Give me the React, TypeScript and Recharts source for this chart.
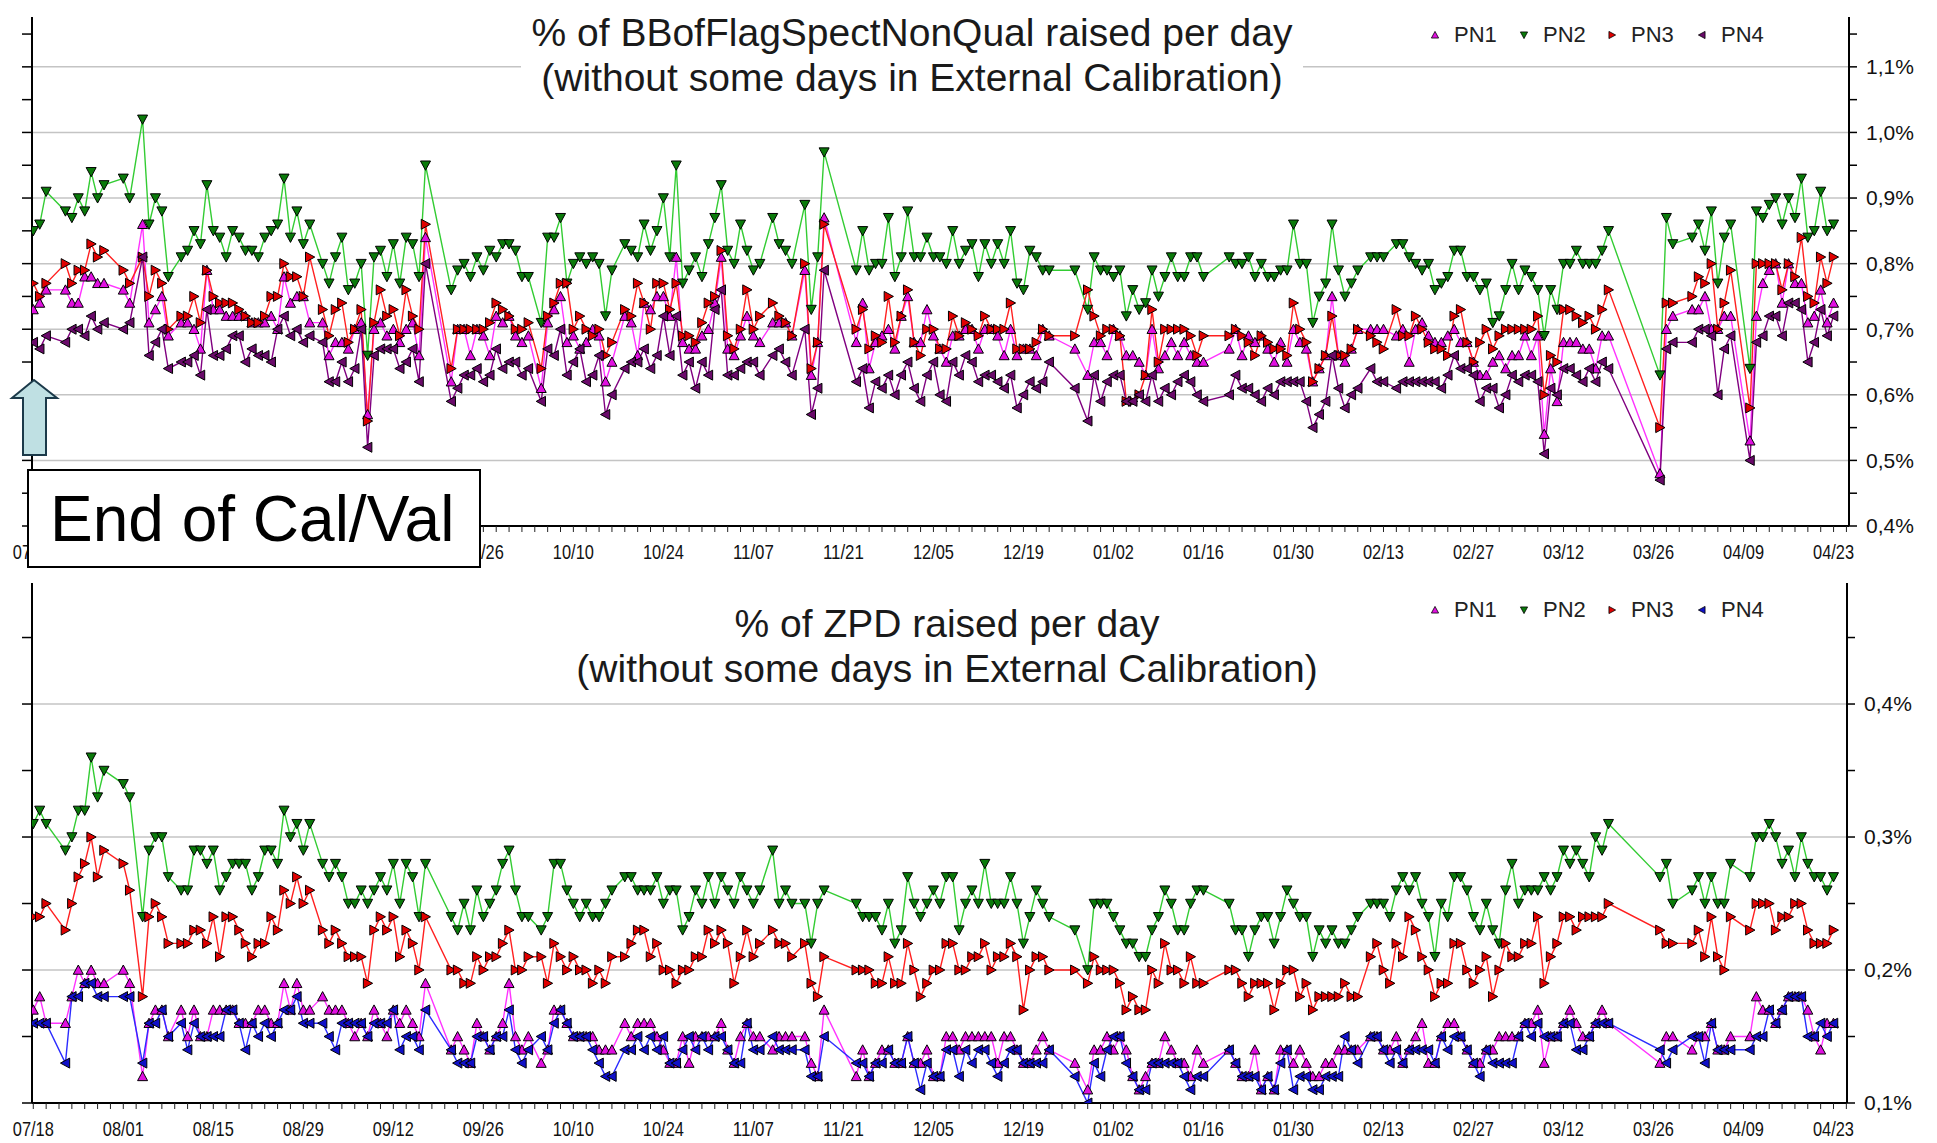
import { CartesianGrid, Line, LineChart, XAxis, YAxis } from 'recharts'

const N = null

// day 0 = 07/18, one value per day, in hundredths of a percent (null = no data that day)
const TOP_PN1 = [
  73, 74, 76, N, N, 76, 74, 74, 78, 78,
  77, 77, N, N, 76, 74, N, 86, 71, 73,
  75, 69, N, 71, 71, 70, 67, 79, 73, 73,
  72, 72, 72, 72, 71, 71, 71, 72, 70, 78,
  74, 75, 75, 71, N, 71, 66, 68, 68, 67,
  70, 71, 57, 70, 71, 69, 70, 68, 70, 71,
  66, 84, N, N, N, 62, 70, 70, 66, 70,
  69, 66, 72, 71, 72, 69, 68, 69, N, 61,
  71, 73, 75, 68, 69, 67, 68, 70, 69, 62,
  65, N, 72, 71, 66, 74, 73, 75, 75, 72,
  81, 68, 67, 67, 69, 70, 74, 81, 67, 66,
  69, 72, 69, 68, N, 71, 71, 71, 69, N,
  79, 63, 68, 87, N, N, N, N, 68, 74,
  64, 68, 69, 70, 67, 72, 75, 68, 68, 73,
  69, 67, 65, 69, 69, 70, 70, 67, 70, 70,
  69, 66, 70, 66, 67, 67, 66, 70, 69, N,
  N, N, 67, N, 63, 68, 68, 66, 70, 69,
  66, 66, 65, 63, 70, 64, 66, 68, 66, 68,
  66, 65, 65, N, N, N, 67, 70, 66, 69,
  68, 69, 67, 65, 68, 65, 70, 68, 67, 62,
  64, 66, 75, 66, 65, 67, 70, N, 70, 70,
  70, N, 69, 70, 65, 70, 71, 69, 68, 68,
  69, 70, 68, 68, 65, 63, 63, 65, 66, 64,
  66, 66, 69, 66, 69, 54, 64, 59, 68, 68,
  68, 67, 67, 64, 69, 69, N, N, N, N,
  N, N, N, 48, 70, 72, N, N, 73, 73,
  75, 70, 70, 72, 72, N, N, 53, 72, 77,
  79, 80, 74, 80, 77, 77, 71, 72, 76, 71, 74,
]

const TOP_PN2 = [
  85, 86, 91, N, N, 88, 87, 90, 88, 94,
  90, 92, N, N, 93, 90, N, 102, 86, 90,
  88, 78, N, 81, 82, 85, 83, 92, 85, 84,
  81, 85, 84, 82, 82, 81, 84, 85, 86, 93,
  84, 88, 83, 86, N, 80, 77, 81, 84, 76,
  77, 80, 66, 81, 82, 78, 83, 77, 84, 83,
  78, 95, N, N, N, 76, 79, 80, 78, 81,
  79, 82, 81, 83, 83, 82, 78, 78, N, 71,
  84, 84, 87, 77, 80, 81, 80, 81, 80, 72,
  79, N, 83, 82, 81, 86, 82, 85, 90, 81,
  95, 77, 79, 81, 78, 83, 87, 92, 82, 80,
  86, 82, 79, 80, N, 87, 83, 82, 80, N,
  89, 73, 81, 97, N, N, N, N, 79, 85,
  79, 80, 80, 87, 78, 81, 88, 81, 81, 84,
  81, 81, 80, 85, 80, 82, 83, 78, 83, 80,
  83, 80, 85, 77, 76, 82, 81, 79, 79, N,
  N, N, 79, N, 73, 81, 79, 79, 78, 79,
  72, 76, 73, 74, 79, 75, 78, 81, 78, 78,
  81, 81, 78, N, N, N, 81, 80, 80, 81,
  78, 80, 78, 78, 79, 79, 86, 80, 80, 71,
  75, 77, 86, 79, 75, 77, 79, N, 81, 81,
  81, N, 83, 83, 81, 80, 79, 80, 76, 77,
  78, 82, 82, 78, 78, 76, 77, 71, 72, 76,
  80, 76, 79, 78, 76, 69, 76, 73, 80, 80,
  82, 80, 80, 80, 82, 85, N, N, N, N,
  N, N, N, 63, 87, 83, N, N, 84, 86,
  82, 88, 77, 84, 86, N, N, 64, 88, 87,
  89, 90, 86, 90, 87, 93, 84, 85, 91, 85, 86,
]

const TOP_PN3 = [
  77, 75, 77, N, N, 80, 77, 79, 79, 83,
  81, 82, N, N, 79, 77, N, 81, 75, 79,
  77, 70, N, 72, 72, 75, 71, 79, 75, 74,
  74, 74, 73, 72, 71, 71, 72, 75, 75, 80,
  78, 78, 75, 81, N, 73, 69, 73, 74, 68,
  70, 73, 56, 71, 76, 72, 73, 69, 76, 72,
  70, 86, N, N, N, 64, 70, 70, 70, 70,
  70, 71, 74, 73, 72, 70, 70, 71, N, 64,
  72, 74, 77, 77, 70, 72, 70, 69, 70, 66,
  68, N, 73, 72, 77, 74, 70, 77, 77, 73,
  77, 69, 69, 68, 71, 74, 75, 82, 69, 67,
  70, 76, 70, 72, N, 74, 72, 71, 69, N,
  80, 64, 68, 86, N, N, N, N, 70, 73,
  67, 69, 68, 75, 68, 72, 76, 68, 66, 70,
  70, 67, 67, 72, 69, 71, 70, 69, 72, 70,
  70, 70, 74, 67, 67, 67, 68, 70, 69, N,
  N, N, 69, N, 76, 72, 69, 70, 70, 69,
  59, 59, 60, 63, 73, 65, 70, 70, 70, 70,
  69, 66, 69, N, N, N, 69, 70, 69, 68,
  66, 69, 68, 67, 67, 66, 74, 70, 68, 62,
  64, 66, 72, 66, 66, 67, 70, N, 69, 68,
  67, N, 73, 69, 69, 72, 70, 68, 67, 67,
  66, 72, 73, 68, 65, 68, 70, 67, 69, 70,
  70, 70, 70, 70, 72, 60, 66, 65, 73, 73,
  72, 71, 72, 70, 73, 76, N, N, N, N,
  N, N, N, 55, 74, 74, N, N, 75, 78,
  77, 80, 70, 74, 79, N, N, 58, 80, 80,
  80, 80, 76, 80, 78, 84, 75, 74, 81, 77, 81,
]

const TOP_PN4 = [
  68, 67, 69, N, N, 68, 70, 70, 69, 72,
  70, 71, N, N, 70, 71, N, 81, 66, 68,
  70, 64, N, 65, 65, 66, 63, 73, 66, 66,
  67, 69, 69, 65, 67, 66, 66, 65, 70, 72,
  69, 70, 68, 69, N, 68, 62, 62, 65, 62,
  64, 70, 52, 66, 67, 67, 67, 64, 65, 67,
  62, 80, N, N, N, 59, 61, 63, 63, 64,
  62, 63, 67, 64, 65, 65, 63, 64, N, 59,
  67, 66, 70, 63, 65, 67, 62, 63, 66, 57,
  60, N, 64, 65, 65, 67, 64, 66, 72, 66,
  72, 63, 65, 61, 65, 63, 73, 76, 63, 63,
  64, 65, 65, 63, N, 66, 67, 65, 63, N,
  70, 57, 61, 79, N, N, N, N, 62, 64,
  58, 62, 61, 63, 60, 63, 65, 61, 59, 63,
  65, 60, 59, 65, 63, 66, 65, 62, 63, 63,
  62, 61, 63, 58, 60, 62, 61, 62, 65, N,
  N, N, 61, N, 56, 63, 59, 62, 63, 63,
  59, 59, 60, 59, 63, 59, 61, 60, 62, 63,
  62, 60, 59, N, N, N, 60, 63, 61, 61,
  60, 59, 61, 60, 62, 62, 62, 62, 59, 55,
  57, 59, 66, 61, 58, 60, 61, N, 64, 62,
  62, N, 61, 62, 62, 62, 62, 62, 62, 61,
  63, 66, 64, 64, 63, 59, 61, 61, 58, 60,
  63, 62, 63, 63, 62, 51, 61, 60, 64, 64,
  63, 62, 64, 62, 65, 64, N, N, N, N,
  N, N, N, 47, 67, 68, N, N, 68, 70,
  70, 69, 60, 67, 69, N, N, 50, 68, 69,
  72, 72, 69, 74, 74, 73, 65, 68, 73, 69, 72,
]

const BOT_PN1 = [
  17, 18, 16, N, N, 16, 18, 20, 19, 20,
  19, 19, N, N, 20, 19, N, 12, 16, 17,
  17, 15, N, 17, 15, 17, 15, 15, 17, 17,
  17, 17, 16, 16, 16, 17, 17, 16, 16, 19,
  17, 19, 17, 17, N, 18, 17, 17, 17, 16,
  15, 16, 15, 17, 16, 15, 17, 16, 17, 16,
  15, 19, N, N, N, 14, 15, 14, 13, 16,
  15, 14, 15, 16, 19, 15, 14, 15, N, 13,
  14, 17, 17, 16, 15, 15, 15, 15, 14, 14,
  14, N, 16, 15, 16, 16, 16, 15, 14, 13,
  13, 15, 13, 15, 15, 15, 15, 16, 14, 13,
  15, 16, 15, 15, N, 14, 15, 15, 15, N,
  15, 13, 12, 17, N, N, N, N, 12, 14,
  12, 13, 14, 14, 13, 13, 15, 13, 13, 14,
  12, 12, 15, 15, 14, 15, 15, 15, 15, 15,
  13, 15, 15, 14, 13, 13, 14, 15, 14, N,
  N, N, 13, N, 11, 14, 14, 15, 14, 15,
  14, 12, 11, 12, 13, 13, 15, 14, 13, 13,
  12, 14, 13, N, N, N, 14, 13, 12, 12,
  14, 11, 12, 11, 14, 14, 13, 14, 13, 12,
  12, 13, 13, 14, 14, 14, 14, N, 15, 15,
  14, 14, 15, 13, 14, 15, 16, 13, 13, 15,
  16, 16, 15, 14, 13, 13, 14, 14, 15, 15,
  15, 15, 16, 16, 17, 13, 15, 15, 16, 17,
  16, 15, 15, 16, 17, 16, N, N, N, N,
  N, N, N, 13, 15, 15, N, N, 14, 15,
  15, 16, 14, 14, 15, N, N, 15, 18, 17,
  17, 16, 17, 18, 18, 18, 17, 15, 14, 16, 16,
]

const BOT_PN2 = [
  31, 32, 31, N, N, 29, 30, 32, 32, 36,
  33, 35, N, N, 34, 33, N, 24, 29, 30,
  30, 27, N, 26, 26, 29, 29, 28, 29, 26,
  27, 28, 28, 28, 26, 27, 29, 29, 28, 32,
  30, 31, 29, 31, N, 28, 27, 28, 27, 25,
  25, 26, 25, 26, 27, 26, 28, 25, 28, 27,
  24, 28, N, N, N, 24, 23, 25, 23, 26,
  24, 25, 26, 28, 29, 26, 24, 24, N, 23,
  24, 28, 28, 26, 25, 24, 25, 24, 24, 25,
  26, N, 27, 27, 26, 26, 26, 27, 25, 26,
  26, 23, 24, 26, 25, 27, 25, 27, 26, 25,
  27, 26, 25, 26, N, 29, 25, 26, 25, N,
  25, 22, 25, 26, N, N, N, N, 25, 24,
  24, 24, 23, 25, 22, 23, 27, 25, 24, 25,
  26, 25, 27, 27, 23, 25, 26, 25, 28, 25,
  25, 25, 27, 25, 22, 24, 26, 25, 24, N,
  N, N, 23, N, 20, 25, 25, 25, 24, 23,
  22, 22, 21, 21, 23, 24, 26, 25, 23, 23,
  25, 26, 26, N, N, N, 25, 23, 23, 21,
  23, 24, 24, 22, 24, 26, 25, 24, 24, 21,
  23, 22, 23, 22, 22, 23, 24, N, 25, 25,
  25, 24, 26, 27, 26, 27, 25, 24, 21, 25,
  24, 27, 27, 26, 24, 23, 25, 23, 22, 26,
  28, 25, 26, 26, 26, 27, 26, 27, 29, 28,
  29, 28, 27, 30, 29, 31, N, N, N, N,
  N, N, N, 27, 28, 25, N, N, 26, 27,
  25, 27, 25, 25, 28, N, N, 27, 30, 30,
  31, 30, 28, 29, 27, 30, 28, 27, 27, 26, 27,
]

const BOT_PN3 = [
  24, 24, 25, N, N, 23, 25, 27, 28, 30,
  27, 29, N, N, 28, 26, N, 18, 24, 25,
  24, 22, N, 22, 22, 23, 23, 22, 24, 21,
  24, 24, 23, 22, 21, 22, 22, 24, 23, 26,
  25, 27, 25, 26, N, 23, 22, 23, 22, 21,
  21, 21, 19, 23, 24, 23, 24, 21, 23, 22,
  20, 24, N, N, N, 20, 20, 19, 19, 21,
  20, 21, 21, 22, 23, 20, 20, 21, N, 21,
  19, 22, 21, 20, 21, 20, 20, 19, 20, 19,
  21, N, 21, 22, 23, 23, 21, 22, 20, 20,
  19, 20, 20, 21, 21, 23, 22, 23, 22, 19,
  21, 23, 21, 22, N, 23, 22, 22, 21, N,
  22, 19, 18, 21, N, N, N, N, 20, 20,
  20, 19, 19, 21, 19, 19, 22, 20, 18, 19,
  20, 20, 22, 22, 20, 20, 21, 21, 22, 20,
  21, 21, 22, 21, 17, 20, 21, 21, 20, N,
  N, N, 20, N, 19, 21, 20, 20, 20, 19,
  17, 18, 17, 17, 20, 19, 22, 20, 20, 19,
  21, 19, 19, N, N, N, 20, 20, 19, 18,
  19, 19, 19, 17, 19, 20, 20, 18, 19, 17,
  18, 18, 18, 18, 19, 18, 18, N, 21, 22,
  20, 19, 22, 21, 24, 23, 21, 20, 18, 19,
  19, 22, 22, 20, 19, 20, 21, 18, 20, 22,
  21, 21, 22, 22, 24, 19, 21, 22, 24, 24,
  23, 24, 24, 24, 24, 25, N, N, N, N,
  N, N, N, 23, 22, 22, N, N, 22, 23,
  21, 24, 21, 20, 24, N, N, 23, 25, 25,
  25, 23, 24, 24, 25, 25, 23, 22, 22, 22, 23,
]

const BOT_PN4 = [
  16, 16, 16, N, N, 13, 18, 18, 19, 19,
  18, 18, N, N, 18, 18, N, 13, 16, 16,
  17, 15, N, 16, 14, 16, 15, 15, 15, 15,
  17, 17, 16, 14, 16, 15, 16, 15, 16, 17,
  17, 18, 16, 16, N, 16, 15, 14, 16, 16,
  16, 16, 15, 16, 16, 16, 17, 14, 15, 15,
  14, 17, N, N, N, 14, 13, 13, 13, 15,
  15, 14, 15, 15, 17, 14, 13, 14, N, 15,
  14, 16, 17, 16, 15, 15, 15, 14, 13, 12,
  12, N, 14, 14, 15, 14, 15, 14, 15, 13,
  13, 14, 15, 14, 15, 14, 15, 15, 14, 13,
  13, 16, 14, 14, N, 15, 14, 14, 14, N,
  14, 12, 12, 15, N, N, N, N, 13, 13,
  12, 13, 13, 14, 13, 13, 15, 13, 11, 13,
  12, 12, 14, 14, 12, 14, 13, 14, 14, 13,
  12, 13, 14, 14, 13, 13, 13, 13, 14, N,
  N, N, 12, N, 10, 13, 12, 14, 15, 15,
  13, 12, 11, 11, 13, 13, 13, 13, 13, 12,
  11, 12, 12, N, N, N, 14, 13, 12, 12,
  12, 11, 12, 11, 13, 14, 11, 12, 12, 11,
  11, 12, 12, 12, 15, 14, 13, N, 15, 15,
  14, 13, 14, 13, 14, 14, 14, 14, 13, 15,
  14, 15, 15, 14, 13, 12, 14, 13, 13, 13,
  13, 15, 16, 15, 16, 15, 15, 15, 16, 16,
  14, 14, 15, 16, 16, 16, N, N, N, N,
  N, N, N, 14, 13, 14, N, N, 15, 15,
  13, 16, 14, 14, 14, N, N, 14, 15, 15,
  17, 16, 17, 18, 18, 18, 15, 15, 16, 15, 16,
]

// one label every 14 days, starting at day 0
const X_LABELS = [
  '07/18', '08/01', '08/15', '08/29', '09/12', '09/26', '10/10', '10/24', '11/07', '11/21', '12/05',
  '12/19', '01/02', '01/16', '01/30', '02/13', '02/27', '03/12', '03/26', '04/09', '04/23',
]
// labels of the upper chart that sit under the "End of Cal/Val" box
const TOP_HIDDEN_LABELS = ['08/01', '08/15', '08/29', '09/12']
const TOP_Y_TICKS = [0.4, 0.45, 0.5, 0.55, 0.6, 0.65, 0.7, 0.75, 0.8, 0.85, 0.9, 0.95, 1.0, 1.05, 1.1, 1.15]
const BOT_Y_TICKS = [0.1, 0.15, 0.2, 0.25, 0.3, 0.35, 0.4, 0.45]
const TOP_GRID = [0.5, 0.6, 0.7, 0.8, 0.9, 1.0, 1.1]
const BOT_GRID = [0.2, 0.3, 0.4]

const FONT = '"Liberation Sans", Arial, Helvetica, sans-serif'
const X_TICKS = Array.from({ length: 142 }, (_, i) => i * 2)

type Shape = 'up' | 'down' | 'right' | 'left'

const SERIES: { key: string; name: string; shape: Shape; line: string; fill: string }[] = [
  { key: 'pn1', name: 'PN1', shape: 'up', line: '#ff33ff', fill: '#e010e0' },
  { key: 'pn2', name: 'PN2', shape: 'down', line: '#33cc33', fill: '#0a7a0a' },
  { key: 'pn3', name: 'PN3', shape: 'right', line: '#ff2020', fill: '#e00000' },
  { key: 'pn4', name: 'PN4', shape: 'left', line: '#800080', fill: '#6a0a6a' },
]
const BOT_PN4_COLORS = { line: '#2b2bff', fill: '#1010c8' }

const pct = (v: number | null) => (v == null ? null : v / 100)

const topData = TOP_PN1.map((_, i) => ({
  day: i,
  pn1: pct(TOP_PN1[i]),
  pn2: pct(TOP_PN2[i]),
  pn3: pct(TOP_PN3[i]),
  pn4: pct(TOP_PN4[i]),
}))

const botData = BOT_PN1.map((_, i) => ({
  day: i,
  pn1: pct(BOT_PN1[i]),
  pn2: pct(BOT_PN2[i]),
  pn3: pct(BOT_PN3[i]),
  pn4: pct(BOT_PN4[i]),
}))

function trianglePath(shape: Shape, cx: number, cy: number, s: number) {
  const t = s * 0.85
  switch (shape) {
    case 'up':
      return `M${cx},${cy - s}L${cx + s},${cy + t}L${cx - s},${cy + t}Z`
    case 'down':
      return `M${cx - s},${cy - t}L${cx + s},${cy - t}L${cx},${cy + s}Z`
    case 'right':
      return `M${cx - t},${cy - s}L${cx + s},${cy}L${cx - t},${cy + s}Z`
    default:
      return `M${cx + t},${cy - s}L${cx - s},${cy}L${cx + t},${cy + s}Z`
  }
}

function makeDot(shape: Shape, fill: string) {
  return (props: any) => {
    const { cx, cy, index, value } = props
    if (value == null || !Number.isFinite(cx) || !Number.isFinite(cy)) {
      return <g key={`e-${index}`} />
    }
    return (
      <path
        key={`m-${index}`}
        d={trianglePath(shape, cx, cy, 5)}
        fill={fill}
        stroke="#000"
        strokeWidth={1}
      />
    )
  }
}

const EmptyTick = () => <g />

function makeXTick(hidden: string[]) {
  return (props: any) => {
    const { x, y, payload } = props
    const d = payload.value as number
    if (d % 14 !== 0) return <g />
    const label = X_LABELS[d / 14]
    if (!label || hidden.includes(label)) return <g />
    return (
      <text
        x={x}
        y={y + 25}
        textAnchor="middle"
        fontSize={21}
        fontFamily={FONT}
        fill="#111"
        textLength={41}
        lengthAdjust="spacingAndGlyphs"
      >
        {label}
      </text>
    )
  }
}

function RightTick(props: any) {
  const { x, y, payload } = props
  const v = payload.value as number
  if (Math.round(v * 100) % 10 !== 0) return <g />
  return (
    <text x={x} y={y} dy="0.35em" textAnchor="start" fontSize={21} fontFamily={FONT} fill="#111">
      {v.toFixed(1).replace('.', ',')}%
    </text>
  )
}

function Chart({
  data,
  height,
  top,
  xAxisHeight,
  rightWidth,
  xMax,
  yDomain,
  yTicks,
  grid,
  pn4,
  hiddenLabels,
}: {
  data: any[]
  height: number
  top: number
  xAxisHeight: number
  rightWidth: number
  xMax: number
  yDomain: [number, number]
  yTicks: number[]
  grid: number[]
  pn4: { line: string; fill: string }
  hiddenLabels: string[]
}) {
  return (
    <LineChart width={1937} height={height} data={data} margin={{ top, right: 0, bottom: 0, left: 0 }}>
      <CartesianGrid
        yAxisId="r"
        vertical={false}
        horizontalValues={grid}
        stroke="#c4c4c4"
        strokeWidth={1.5}
      />
      <XAxis
        dataKey="day"
        type="number"
        domain={[-0.2, xMax]}
        allowDataOverflow
        ticks={X_TICKS}
        interval={0}
        height={xAxisHeight}
        tickSize={6}
        tick={makeXTick(hiddenLabels)}
        axisLine={{ stroke: '#000', strokeWidth: 2 }}
        tickLine={{ stroke: '#222', strokeWidth: 1 }}
      />
      <YAxis
        yAxisId="l"
        orientation="left"
        type="number"
        width={32}
        domain={yDomain}
        allowDataOverflow
        ticks={yTicks}
        interval={0}
        tickSize={10}
        tick={EmptyTick}
        axisLine={{ stroke: '#000', strokeWidth: 2 }}
        tickLine={{ stroke: '#000', strokeWidth: 1.5 }}
      />
      <YAxis
        yAxisId="r"
        orientation="right"
        type="number"
        width={rightWidth}
        domain={yDomain}
        allowDataOverflow
        ticks={yTicks}
        interval={0}
        tickSize={8}
        tickMargin={9}
        tick={RightTick}
        axisLine={{ stroke: '#000', strokeWidth: 2 }}
        tickLine={{ stroke: '#000', strokeWidth: 1.5 }}
      />
      {SERIES.map((s) => {
        const colors = s.key === 'pn4' ? pn4 : s
        return (
          <Line
            key={s.key}
            yAxisId="r"
            type="linear"
            dataKey={s.key}
            name={s.name}
            stroke={colors.line}
            strokeWidth={1.4}
            dot={makeDot(s.shape, colors.fill)}
            activeDot={false}
            connectNulls
            isAnimationActive={false}
          />
        )
      })}
    </LineChart>
  )
}

function ChartLegend({ y, pn4Fill }: { y: number; pn4Fill: string }) {
  const xs = [1435, 1524, 1612, 1702]
  return (
    <>
      {SERIES.map((s, i) => (
        <div key={s.key}>
          <svg
            width={14}
            height={14}
            style={{ position: 'absolute', left: xs[i] - 7, top: y - 7 }}
          >
            <path
              d={trianglePath(s.shape, 7, 7, 3.6)}
              fill={s.key === 'pn4' ? pn4Fill : s.fill}
              stroke="#000"
              strokeWidth={0.8}
            />
          </svg>
          <div
            style={{
              position: 'absolute',
              left: xs[i] + 19,
              top: y - 13,
              fontSize: 22,
              lineHeight: '26px',
              color: '#222',
              whiteSpace: 'nowrap',
            }}
          >
            {s.name}
          </div>
        </div>
      ))}
    </>
  )
}

export default function App() {
  return (
    <div
      style={{
        position: 'absolute',
        left: 0,
        top: 0,
        width: 1937,
        height: 1143,
        background: '#fff',
        fontFamily: FONT,
        overflow: 'hidden',
      }}
    >
      <div style={{ position: 'absolute', left: 0, top: 0 }}>
        <Chart
          data={topData}
          height={570}
          top={17}
          xAxisHeight={44}
          rightWidth={88}
          xMax={282.4}
          yDomain={[0.4, 1.176]}
          yTicks={TOP_Y_TICKS}
          grid={TOP_GRID}
          pn4={{ line: SERIES[3].line, fill: SERIES[3].fill }}
          hiddenLabels={TOP_HIDDEN_LABELS}
        />
      </div>
      <div style={{ position: 'absolute', left: 0, top: 570 }}>
        <Chart
          data={botData}
          height={573}
          top={13}
          xAxisHeight={40}
          rightWidth={90}
          xMax={282.1}
          yDomain={[0.1, 0.491]}
          yTicks={BOT_Y_TICKS}
          grid={BOT_GRID}
          pn4={BOT_PN4_COLORS}
          hiddenLabels={[]}
        />
      </div>

      <div
        style={{
          position: 'absolute',
          left: 521,
          top: 10,
          width: 782,
          height: 90,
          background: '#fff',
          textAlign: 'center',
          fontSize: 39,
          lineHeight: '45px',
          color: '#1a1a1a',
        }}
      >
        <div>% of BBofFlagSpectNonQual raised per day</div>
        <div>(without some days in External Calibration)</div>
      </div>
      <div
        style={{
          position: 'absolute',
          left: 547,
          top: 601,
          width: 800,
          textAlign: 'center',
          fontSize: 39,
          lineHeight: '45px',
          color: '#1a1a1a',
        }}
      >
        <div>% of ZPD raised per day</div>
        <div>(without some days in External Calibration)</div>
      </div>

      <ChartLegend y={35} pn4Fill={SERIES[3].fill} />
      <ChartLegend y={610} pn4Fill={BOT_PN4_COLORS.fill} />

      <svg width={70} height={80} style={{ position: 'absolute', left: 0, top: 378 }}>
        <polygon
          points="34,2 57,20 46,20 46,77 23,77 23,20 12,20"
          fill="#bfe0e3"
          stroke="#1c3a4a"
          strokeWidth={2}
        />
      </svg>
      <div
        style={{
          position: 'absolute',
          left: 27,
          top: 469,
          width: 454,
          height: 99,
          boxSizing: 'border-box',
          border: '2px solid #000',
          background: '#fff',
          display: 'flex',
          alignItems: 'center',
          paddingLeft: 21,
          fontSize: 64,
          color: '#000',
          whiteSpace: 'nowrap',
        }}
      >
        End of Cal/Val
      </div>
    </div>
  )
}
